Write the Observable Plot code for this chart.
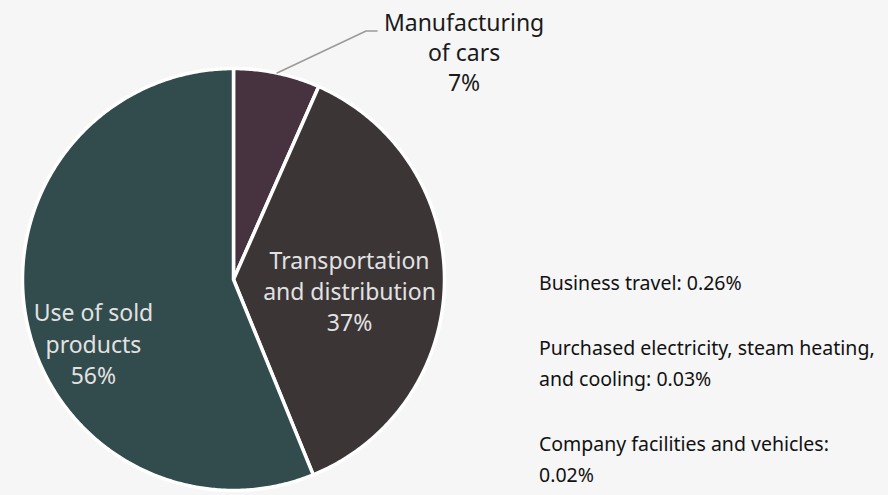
<!DOCTYPE html>
<html>
<head>
<meta charset="utf-8">
<script src="https://cdn.jsdelivr.net/npm/d3@7"></script>
<script src="https://cdn.jsdelivr.net/npm/@observablehq/plot@0.6"></script>
<style>
  html, body { margin: 0; padding: 0; background: #f6f6f6; }
  #wrap { position: relative; width: 888px; height: 495px; font-family: "Noto Sans", sans-serif; }
  #notes { position: absolute; left: 539px; top: 267px; width: 340px; color: #111; font-size: 19.5px; line-height: 31.5px; }
  #notes p { margin: 0 0 33px 0; }
</style>
</head>
<body>
<div id="wrap"></div>
<script>
// ---- data ----
const categories = ["Manufacturing of cars", "Transportation and distribution", "Use of sold products"];
const labelLines = [["Manufacturing", "of cars"], ["Transportation", "and distribution"], ["Use of sold", "products"]];
const shares = [6.6, 37.1, 56.0];
const sliceColors = ["#47333f", "#3b3536", "#324b4c"];
const noteLabels = ["Business travel", "Purchased electricity, steam heating, and cooling", "Company facilities and vehicles"];
const noteValues = ["0.26%", "0.03%", "0.02%"];

// ---- layout ----
const W = 888, H = 495;
const cx = 233, cy = 279, R = 211;

const pie = d3.pie().sort(null).value(d => d.share)(categories.map((c, i) => ({cat: c, share: shares[i], lines: labelLines[i]})));
const pt = (a, r) => ({x: cx + r * Math.sin(a), y: cy - r * Math.cos(a)});

const poly = [];
pie.forEach(s => {
  const c = pt(0, 0);
  poly.push({cat: s.data.cat, ...c});
  const n = Math.max(2, Math.ceil((s.endAngle - s.startAngle) / (Math.PI / 360)));
  for (let k = 0; k <= n; k++) {
    const a = s.startAngle + (s.endAngle - s.startAngle) * k / n;
    poly.push({cat: s.data.cat, ...pt(a, R)});
  }
  poly.push({cat: s.data.cat, ...c});
});

const mid = s => (s.startAngle + s.endAngle) / 2;
const labelText = d => d.lines.join("\n") + "\n" + Math.round(d.share) + "%";
// inner labels
const inner = [
  {s: pie[1], r: R * 0.55, dx: 0, dy: 9},
  {s: pie[2], r: R * 0.72, dx: 9, dy: 34}
].map(o => {
  const p = pt(mid(o.s), o.r);
  return {x: p.x + o.dx, y: p.y + o.dy, text: labelText(o.s.data)};
});

// callout for first slice
const s0 = pie[0];
const edge = pt(mid(s0), R);
const elbow = {x: edge.x + 89, y: edge.y - 42};
const end = {x: elbow.x + 11, y: elbow.y};
const leader = [edge, elbow, end];
const callout = [{x: end.x + 87, y: end.y - 21, text: labelText(s0.data)}];

const chart = Plot.plot({
  width: W, height: H,
  margin: 0,
  style: {background: "#f6f6f6", fontFamily: "Noto Sans, sans-serif"},
  x: {domain: [0, W], axis: null},
  y: {domain: [0, H], range: [0, H], axis: null},
  color: {domain: categories, range: sliceColors},
  marks: [
    Plot.line(poly, {x: "x", y: "y", z: "cat", fill: "cat", stroke: "white", strokeWidth: 3.5, strokeLinejoin: "round"}),
    Plot.line(leader, {x: "x", y: "y", stroke: "#9a9a9a", strokeWidth: 1.5}),
    Plot.text(inner, {x: "x", y: "y", text: "text", fill: "#e2e2e2", fontSize: 23, lineHeight: 1.36, lineAnchor: "middle"}),
    Plot.text(callout, {x: "x", y: "y", text: "text", fill: "#1a1a1a", fontSize: 23, lineHeight: 1.3, lineAnchor: "top"})
  ]
});

const wrap = document.getElementById("wrap");
wrap.appendChild(chart);
const notes = document.createElement("div");
notes.id = "notes";
noteLabels.forEach((l, i) => {
  const p = document.createElement("p");
  p.textContent = l + ": " + noteValues[i];
  notes.appendChild(p);
});
wrap.appendChild(notes);
</script>
</body>
</html>
